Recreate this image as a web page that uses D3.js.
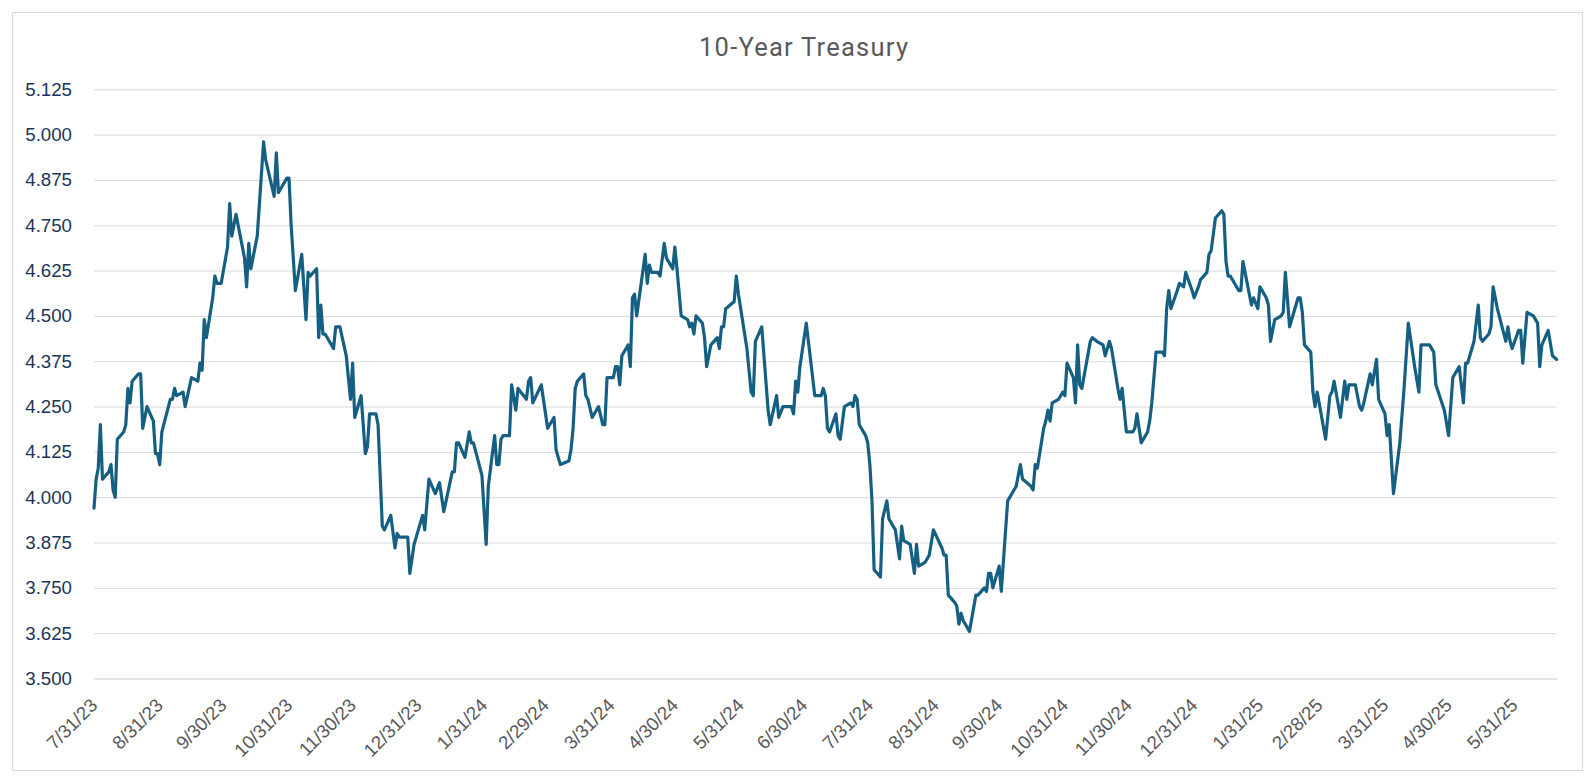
<!DOCTYPE html>
<html><head><meta charset="utf-8">
<script src="https://cdn.jsdelivr.net/npm/d3@7"></script>
<style>body{margin:0;background:#fff}svg{display:block}</style>
</head><body><svg id="c" width="1595" height="783"></svg>
<script>
const title = "10-Year Treasury";
const months = ["2023-07","2023-08","2023-09","2023-10","2023-11","2023-12","2024-01","2024-02","2024-03","2024-04","2024-05","2024-06","2024-07","2024-08","2024-09","2024-10","2024-11","2024-12","2025-01","2025-02","2025-03","2025-04","2025-05","2025-06"];
const days = [
 [31],
 [1,2,3,4,7,8,9,10,11,14,15,16,17,18,21,22,23,25,28,29,30,31],
 [1,5,6,7,8,11,12,15,18,19,20,21,22,25,26,27,29],
 [2,3,4,6,10,11,12,13,16,19,20,24,25,26,27,30,31],
 [1,3,6,8,9,10,13,14,15,16,17,21,22,24,27,29,30],
 [1,4,6,7,8,11,12,14,15,18,20,21,22,26,27,29],
 [2,3,5,8,10,12,16,17,18,19,22,24,25,26,30],
 [1,2,5,6,7,8,9,12,13,15,16,20,21,22,23,27],
 [1,4,5,7,11,12,13,14,15,18,19,20,22,25,27,28,29],
 [1,2,3,4,5,8,9,10,11,12,16,17,18,19,22,23,25,26,29,30],
 [1,3,6,7,8,9,10,13,14,15,16,17,20,21,22,23,24,28,29,30],
 [3,5,6,7,10,13,14,17,18,20,24,25,26,27,28],
 [1,5,8,9,10,11,12,15,16,17,19,22,23,24,25,26,29,30,31],
 [1,2,5,6,8,9,12,14,15,16,19,21,22,23,26,28,30],
 [3,4,5,6,9,10,11,12,13,16,19,20,23,24,25,26,27,30],
 [1,4,7,8,10,11,15,16,17,18,21,22,23,24,25,28,29,30,31],
 [1,4,5,6,7,8,12,13,15,18,19,21,22,25,26,27,29],
 [2,3,4,5,6,9,10,11,13,16,17,18,19,20,23,24,26,27,30,31],
 [2,3,6,7,8,10,13,14,15,16,17,21,22,23,27,28,30,31],
 [3,4,5,7,10,11,12,14,18,19,20,21,24,25,26,27],
 [3,5,6,7,10,12,13,14,17,19,20,21,24,25,27,28,31],
 [1,2,4,7,9,11,14,16,17,21,23,24,28,30],
 [2,5,7,8,9,12,14,15,16,19,20,21,23,27,28,29,30],
 [2,3,4,6,9,11,12,13,16,18,20]
];
const yields = [
 [3.97],
 [4.05,4.08,4.20,4.05,4.07,4.09,4.02,4.00,4.16,4.18,4.20,4.30,4.26,4.32,4.34,4.34,4.19,4.25,4.21,4.12,4.12,4.09],
 [4.18,4.27,4.27,4.30,4.28,4.29,4.25,4.33,4.32,4.37,4.35,4.49,4.44,4.55,4.61,4.59,4.59],
 [4.69,4.81,4.72,4.78,4.66,4.58,4.70,4.63,4.72,4.98,4.93,4.83,4.95,4.84,4.85,4.88,4.88],
 [4.75,4.57,4.67,4.49,4.62,4.61,4.63,4.44,4.53,4.45,4.45,4.41,4.47,4.47,4.39,4.27,4.37],
 [4.22,4.28,4.12,4.14,4.23,4.23,4.20,3.92,3.91,3.95,3.86,3.90,3.89,3.89,3.79,3.87],
 [3.95,3.91,4.05,4.01,4.04,3.96,4.07,4.07,4.15,4.15,4.11,4.18,4.15,4.15,4.06],
 [3.87,4.03,4.17,4.09,4.09,4.16,4.17,4.17,4.31,4.24,4.30,4.27,4.32,4.33,4.26,4.31],
 [4.19,4.22,4.13,4.09,4.10,4.13,4.19,4.30,4.32,4.34,4.28,4.27,4.22,4.25,4.20,4.20,4.33],
 [4.33,4.36,4.36,4.31,4.39,4.42,4.36,4.55,4.56,4.50,4.67,4.59,4.64,4.62,4.62,4.61,4.70,4.66,4.63,4.69],
 [4.63,4.50,4.49,4.47,4.48,4.45,4.50,4.48,4.44,4.36,4.39,4.42,4.44,4.41,4.47,4.47,4.52,4.54,4.61,4.56],
 [4.41,4.29,4.28,4.43,4.47,4.24,4.20,4.28,4.22,4.25,4.25,4.23,4.32,4.29,4.36],
 [4.48,4.28,4.28,4.30,4.28,4.19,4.18,4.23,4.17,4.16,4.25,4.26,4.25,4.28,4.27,4.20,4.17,4.15,4.09],
 [3.99,3.80,3.78,3.94,3.99,3.94,3.91,3.83,3.92,3.88,3.87,3.79,3.87,3.81,3.82,3.84,3.91],
 [3.86,3.84,3.84,3.73,3.71,3.70,3.65,3.68,3.66,3.63,3.73,3.73,3.75,3.74,3.79,3.79,3.75,3.81],
 [3.74,3.99,4.02,4.03,4.09,4.05,4.03,4.02,4.09,4.08,4.19,4.21,4.24,4.21,4.26,4.27,4.28,4.29,4.28],
 [4.37,4.33,4.26,4.42,4.31,4.30,4.43,4.44,4.43,4.42,4.39,4.43,4.41,4.30,4.27,4.30,4.18],
 [4.18,4.19,4.23,4.19,4.15,4.18,4.21,4.26,4.40,4.40,4.39,4.52,4.57,4.52,4.57,4.59,4.58,4.62,4.57,4.55],
 [4.58,4.60,4.62,4.67,4.68,4.77,4.79,4.78,4.65,4.61,4.61,4.57,4.57,4.65,4.53,4.55,4.52,4.58],
 [4.55,4.53,4.43,4.49,4.50,4.51,4.62,4.47,4.55,4.55,4.51,4.42,4.40,4.29,4.25,4.29],
 [4.16,4.28,4.29,4.32,4.22,4.32,4.27,4.31,4.31,4.25,4.24,4.26,4.34,4.31,4.38,4.27,4.23],
 [4.17,4.20,4.01,4.15,4.30,4.48,4.36,4.29,4.42,4.42,4.40,4.31,4.24,4.17],
 [4.33,4.36,4.26,4.37,4.37,4.43,4.53,4.44,4.43,4.45,4.47,4.58,4.52,4.43,4.47,4.43,4.41],
 [4.46,4.46,4.37,4.51,4.50,4.48,4.36,4.42,4.46,4.39,4.38]
];
const yTicks = [3.5,3.625,3.75,3.875,4.0,4.125,4.25,4.375,4.5,4.625,4.75,4.875,5.0,5.125];
const xTickLabels = ["7/31/23","8/31/23","9/30/23","10/31/23","11/30/23","12/31/23","1/31/24","2/29/24","3/31/24","4/30/24","5/31/24","6/30/24","7/31/24","8/31/24","9/30/24","10/31/24","11/30/24","12/31/24","1/31/25","2/28/25","3/31/25","4/30/25","5/31/25"];

const parse = d3.timeParse("%Y-%m-%d");
const parseTick = d3.timeParse("%m/%d/%y");
const data = [];
months.forEach((m, i) => days[i].forEach((d, j) => {
  data.push({date: parse(m + "-" + String(d).padStart(2, "0")), value: yields[i][j]});
}));

const L = 94, R = 1556.7, T = 89.3, B = 678.5;
const svg = d3.select("#c");
svg.append("rect").attr("x", 12.5).attr("y", 12.5).attr("width", 1570).attr("height", 758)
  .attr("fill", "#fff").attr("stroke", "#d9d9d9").attr("stroke-width", 1);

const x = d3.scaleTime().domain(d3.extent(data, d => d.date)).range([L, R]);
const y = d3.scaleLinear().domain([3.5, 5.125]).range([B, T]);

const gy = svg.append("g").attr("transform", `translate(${L},0)`)
  .call(d3.axisLeft(y).tickValues(yTicks).tickSize(-(R - L)).tickPadding(22).tickFormat(d3.format(".3f")));
gy.select(".domain").remove();
gy.selectAll(".tick line").attr("stroke", "#d9d9d9").attr("stroke-width", 1);
gy.selectAll(".tick text").attr("fill", "#1b3556").style("font-family", "'Liberation Sans', Arial, sans-serif").style("font-size", "18.7px");

const tickDates = xTickLabels.map(s => parseTick(s));
const gx = svg.append("g").attr("transform", `translate(0,${B})`)
  .call(d3.axisBottom(x).tickValues(tickDates).tickSize(0).tickSizeOuter(0)
    .tickFormat((d, i) => xTickLabels[i]));
gx.select(".domain").attr("stroke", "#d9d9d9");
gx.selectAll(".tick text")
  .attr("y", null).attr("dy", null)
  .attr("text-anchor", "end")
  .attr("transform", "translate(4,28) rotate(-45)")
  .attr("fill", "#595959")
  .style("font-family", "'Liberation Sans', Arial, sans-serif").style("font-size", "18.7px");

svg.append("path").datum(data)
  .attr("fill", "none").attr("stroke", "#156082").attr("stroke-width", 3.2)
  .attr("stroke-linejoin", "round").attr("stroke-linecap", "round")
  .attr("d", d3.line().x(d => x(d.date)).y(d => y(d.value)));

svg.append("text").attr("x", 803.5).attr("y", 56).attr("text-anchor", "middle")
  .attr("textLength", 209).attr("lengthAdjust", "spacing")
  .attr("fill", "#595959").style("font-family", "Roboto, 'Open Sans', sans-serif").style("font-size", "25.5px")
  .text(title);
</script>
</body></html>
